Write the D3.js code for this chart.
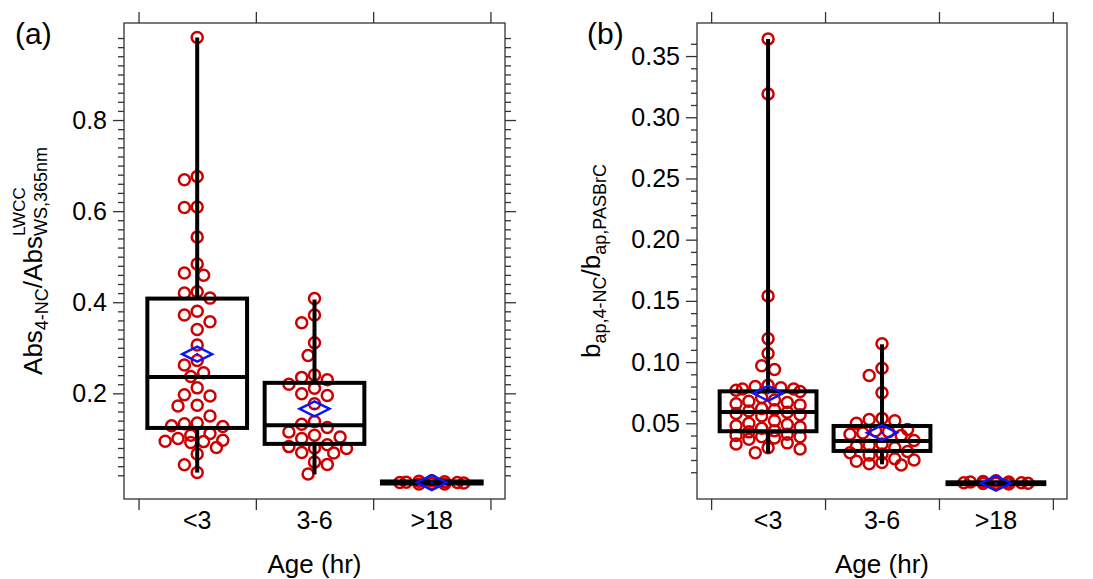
<!DOCTYPE html>
<html>
<head>
<meta charset="utf-8">
<script src="https://cdn.jsdelivr.net/npm/d3@7"></script>
<style>
  body { margin: 0; background: #fff; }
  svg { display: block; font-family: 'Liberation Sans', Arial, sans-serif; }
</style>
</head>
<body>
<svg id="chart" width="1093" height="579"></svg>
<script>
'use strict';

var categories = ['<3', '3-6', '>18'];

// panel (a): Abs(4-NC) / Abs(LWCC, WS, 365nm), one value per sample
var absYoung = [0.981, 0.676, 0.669, 0.609, 0.608, 0.543, 0.484, 0.464, 0.459,
  0.423, 0.420, 0.409, 0.380, 0.372, 0.357, 0.340, 0.306, 0.272, 0.262, 0.245,
  0.237, 0.212, 0.197, 0.194, 0.174, 0.172, 0.150, 0.135, 0.133, 0.129, 0.127,
  0.112, 0.108, 0.101, 0.097, 0.095, 0.094, 0.092, 0.081, 0.067, 0.043, 0.026];
var absMid = [0.408, 0.372, 0.355, 0.311, 0.283, 0.240, 0.235, 0.230, 0.220,
  0.211, 0.199, 0.195, 0.177, 0.138, 0.132, 0.125, 0.115, 0.108, 0.104, 0.101,
  0.087, 0.083, 0.080, 0.079, 0.070, 0.069, 0.049, 0.044, 0.023];
var absOld = [0.008, 0.007, 0.006, 0.005, 0.004, 0.004, 0.003, 0.002, 0.001, 0.001];

// box statistics for (a): [min, q1, median, q3, max, mean]
var absStats = [
  [0.026, 0.124, 0.236, 0.408, 0.981, 0.286],
  [0.022, 0.089, 0.130, 0.223, 0.406, 0.166],
  [0.001, 0.002, 0.004, 0.0065, 0.008, 0.004]
];

// panel (b): b_ap(4-NC) / b_ap(PASBrC)
var bapYoung = [0.364, 0.319, 0.154, 0.119, 0.107, 0.097, 0.094,
  0.081, 0.080, 0.079, 0.078, 0.078, 0.077, 0.076,
  0.071, 0.069, 0.068, 0.067, 0.066, 0.065,
  0.062, 0.061, 0.060, 0.059, 0.058, 0.057, 0.056,
  0.052, 0.050, 0.049, 0.048, 0.047, 0.046,
  0.044, 0.043, 0.041, 0.040, 0.039, 0.039, 0.038, 0.037,
  0.034, 0.033, 0.030, 0.029, 0.026];
var bapMid = [0.115, 0.095, 0.089, 0.075, 0.054, 0.053, 0.052, 0.050, 0.045,
  0.044, 0.043, 0.042, 0.041, 0.040, 0.036, 0.033, 0.032, 0.031, 0.030, 0.027,
  0.026, 0.025, 0.024, 0.021, 0.020, 0.019, 0.018, 0.017, 0.016];
var bapOld = [0.003, 0.0025, 0.002, 0.002, 0.0015, 0.0015, 0.001, 0.001, 0.0008, 0.0005];

var bapStats = [
  [0.0255, 0.0435, 0.0592, 0.0761, 0.364, 0.0745],
  [0.0165, 0.0274, 0.0355, 0.0478, 0.1145, 0.0423],
  [0.0005, 0.0003, 0.001, 0.0018, 0.003, 0.001]
];

var absTicks = [0.2, 0.4, 0.6, 0.8];
var bapTicks = [0.05, 0.10, 0.15, 0.20, 0.25, 0.30, 0.35];

var svg = d3.select('#chart');

var AXIS = '#333',
    RED = '#cc0000',
    BLUE = '#0a14ff';

// simple beeswarm: offsets snapped to half-marker steps, capped in width
var swarm = function (values, y) {
  var placed = [],
      D = 12.8,
      step = 6.4,
      maxK = 5,
      order = [0],
      k;

  for (k = 1; k <= maxK; k++) {
    order.push(-k, k);
  }

  values.slice().sort(d3.descending).forEach(function (v) {
    var py = y(v),
        best = null,
        bestCost = Infinity;

    order.forEach(function (k) {
      var px = k * step,
          cost = 0;
      placed.forEach(function (p) {
        var dist = Math.hypot(p.dx - px, p.y - py);
        if (dist < D) {
          cost += D - dist;
        }
      });
      if (cost < bestCost - 1e-9) {
        bestCost = cost;
        best = px;
      }
    });
    placed.push({value: v, dx: best, y: py});
  });
  return placed;
};

var addYLabel = function (g, px, py, parts) {
  var text = g.append('text').attr('fill', '#000'),
      pos = 0,
      stackStart = 0;

  parts.forEach(function (p) {
    var t = text.append('tspan')
        .attr('font-size', p.size)
        .attr('y', p.shift)
        .text(p.text),
        w;

    t.attr('x', p.stack ? stackStart : pos);
    w = t.node().getComputedTextLength();
    if (p.stack) {
      pos = Math.max(pos, stackStart + w);
    } else {
      stackStart = pos;
      pos += w;
    }
  });

  text.attr('transform', 'translate(' + px + ',' + py + ') rotate(-90) translate(' + (-pos / 2) + ',0)');
};

var drawPanel = function (options) {
  var g = svg.append('g'),
      f = options.frame,
      x, y, edge, boxW, axis, mid;

  x = d3.scaleBand().domain(categories)
      .range([f.left, f.right])
      .paddingInner(0)
      .paddingOuter(0.124);
  y = d3.scaleLinear().domain(options.domain).range([f.bottom, f.top]);
  edge = d3.scaleLinear().domain([0, categories.length])
      .range([x(categories[0]), x(categories[categories.length - 1]) + x.bandwidth()]);
  boxW = x.bandwidth() * 0.85;
  mid = (f.top + f.bottom) / 2;

  var style = function (sel) {
    sel.select('.domain').remove();
    sel.selectAll('line').attr('stroke', AXIS).attr('stroke-width', 1.3);
    sel.selectAll('text').attr('fill', '#000');
    sel.attr('font-size', 25).attr('font-family', null);
  };

  // left axis: labelled majors + short minors
  axis = g.append('g').attr('transform', 'translate(' + f.left + ',0)');
  axis.append('g').call(d3.axisLeft(y).tickValues(options.minor).tickSize(6).tickFormat('')).call(style);
  axis.append('g').call(d3.axisLeft(y).tickValues(options.major).tickSize(11)
      .tickPadding(6).tickFormat(d3.format(options.format))).call(style);

  if (options.mirror) {
    axis = g.append('g').attr('transform', 'translate(' + f.right + ',0)');
    axis.append('g').call(d3.axisRight(y).tickValues(options.minor).tickSize(6).tickFormat('')).call(style);
    axis.append('g').call(d3.axisRight(y).tickValues(options.major).tickSize(11).tickFormat('')).call(style);
  }

  // category boundary ticks, top and bottom
  g.append('g').attr('transform', 'translate(0,' + f.top + ')')
      .call(d3.axisTop(edge).tickValues(d3.range(categories.length + 1)).tickSize(11).tickFormat(''))
      .call(style);
  g.append('g').attr('transform', 'translate(0,' + f.bottom + ')')
      .call(d3.axisBottom(edge).tickValues(d3.range(categories.length + 1)).tickSize(11).tickFormat(''))
      .call(style);
  g.append('g').attr('transform', 'translate(0,' + f.bottom + ')')
      .call(d3.axisBottom(x).tickSize(0).tickPadding(12))
      .call(style);

  g.append('rect')
      .attr('x', f.left).attr('y', f.top)
      .attr('width', f.right - f.left).attr('height', f.bottom - f.top)
      .attr('fill', 'none').attr('stroke', AXIS).attr('stroke-width', 1.3);

  // data points
  options.groups.forEach(function (values, i) {
    var cx = x(categories[i]) + x.bandwidth() / 2;
    g.append('g').selectAll('circle')
        .data(swarm(values, y))
        .join('circle')
        .attr('cx', function (d) { return cx + d.dx; })
        .attr('cy', function (d) { return d.y; })
        .attr('r', 5.5)
        .attr('fill', 'none')
        .attr('stroke', RED)
        .attr('stroke-width', 2.5);
  });

  // boxes, whiskers, medians, means
  options.stats.forEach(function (s, i) {
    var cx = x(categories[i]) + x.bandwidth() / 2,
        bg = g.append('g').attr('stroke', '#000').attr('stroke-width', 4).attr('fill', 'none'),
        my = y(s[5]);

    bg.append('line').attr('x1', cx).attr('x2', cx).attr('y1', y(s[0])).attr('y2', y(s[1]));
    bg.append('line').attr('x1', cx).attr('x2', cx).attr('y1', y(s[3])).attr('y2', y(s[4]));
    bg.append('rect')
        .attr('x', cx - boxW / 2).attr('width', boxW)
        .attr('y', y(s[3])).attr('height', Math.max(0, y(s[1]) - y(s[3])));
    bg.append('line').attr('x1', cx - boxW / 2).attr('x2', cx + boxW / 2)
        .attr('y1', y(s[2])).attr('y2', y(s[2]));

    g.append('path')
        .attr('d', 'M' + (cx - 15) + ',' + my + 'L' + cx + ',' + (my - 7.5) +
            'L' + (cx + 15) + ',' + my + 'L' + cx + ',' + (my + 7.5) + 'Z')
        .attr('fill', 'none').attr('stroke', BLUE).attr('stroke-width', 2.4);
    g.append('circle').attr('cx', cx).attr('cy', my).attr('r', 1.3).attr('fill', BLUE);
  });

  g.append('text')
      .attr('x', (f.left + f.right) / 2).attr('y', 573)
      .attr('text-anchor', 'middle').attr('font-size', 26)
      .text('Age (hr)');

  g.append('text')
      .attr('x', options.letterX).attr('y', 44)
      .attr('font-size', 30)
      .text(options.letter);

  addYLabel(g, options.labelX, mid, options.label);
};

drawPanel({
  frame: {left: 124, top: 23, right: 505, bottom: 499},
  domain: [-0.032, 1.013],
  major: absTicks,
  minor: d3.range(1, 50).map(function (k) { return k * 0.02; })
      .filter(function (v) { return Math.round(v * 50) % 10 !== 0; }),
  format: '.1f',
  mirror: true,
  groups: [absYoung, absMid, absOld],
  stats: absStats,
  letter: '(a)',
  letterX: 15,
  labelX: 42,
  label: [
    {text: 'Abs', size: 26, shift: 0},
    {text: '4-NC', size: 18, shift: 6},
    {text: '/Abs', size: 26, shift: 0},
    {text: 'LWCC', size: 17, shift: -17},
    {text: 'WS,365nm', size: 18, shift: 5, stack: true}
  ]
});

drawPanel({
  frame: {left: 697, top: 23, right: 1067, bottom: 499},
  domain: [-0.01185, 0.377],
  major: bapTicks,
  minor: d3.range(1, 37).map(function (k) { return k * 0.01; })
      .filter(function (v) { return Math.round(v * 100) % 5 !== 0; }),
  format: '.2f',
  mirror: false,
  groups: [bapYoung, bapMid, bapOld],
  stats: bapStats,
  letter: '(b)',
  letterX: 587,
  labelX: 600,
  label: [
    {text: 'b', size: 26, shift: 0},
    {text: 'ap,4-NC', size: 18, shift: 6},
    {text: '/b', size: 26, shift: 0},
    {text: 'ap,PASBrC', size: 18, shift: 6}
  ]
});
</script>
</body>
</html>
